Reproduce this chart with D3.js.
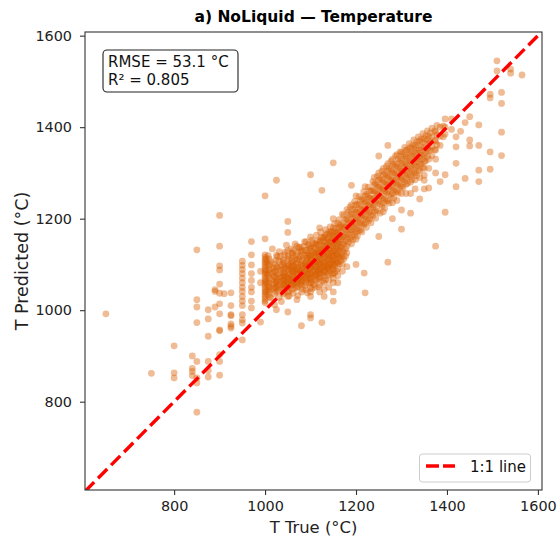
<!DOCTYPE html>
<html>
<head>
<meta charset="utf-8">
<script src="https://cdn.jsdelivr.net/npm/d3@7"></script>
<style>
  body { margin: 0; background: #fff; }
  svg { font-family: "DejaVu Sans", sans-serif; }
</style>
</head>
<body>
<div id="chart"></div>
<script>
// True temperature columns and the predicted values
const tailLowTrue = [650, 750, 800, 840, 850, 875, 890, 900, 910, 925, 950, 970, 990];
const tailLowPred = [
    [992], [862], [922, 863, 852], [900, 873, 866, 857],
    [1132, 1023, 1007, 973, 888, 852, 841, 777],
    [1001, 981, 943, 888, 868, 854], [1045, 1041, 1007],
    [1207, 1140, 1097, 1088, 1057, 1037, 1014, 992, 957, 955, 903, 888, 858],
    [1036], [1038, 1010, 990, 988, 970, 965, 961],
    [1107, 1098, 1089, 1080, 1070, 1060, 1050, 1041, 1030, 1020, 1010, 990, 979, 972, 935],
    [1150, 1121, 1099, 1080, 1065, 1050, 1040, 1020, 1005],
    [1085, 1060, 974]
];

const coreTrue = [1000, 1010, 1025, 1040, 1050, 1060, 1070, 1080, 1090, 1100, 1110, 1120, 1125,
    1130, 1140, 1150, 1160, 1170];
const corePred = [
    [1250, 1156, 1121, 1116, 1110, 1105, 1100, 1095, 1090, 1085, 1080, 1075, 1070, 1065, 1060, 1055,
        1050, 1045, 1040, 1035, 1030, 1025, 1020, 1016],
    [1100, 1082, 1070, 1050, 1040, 1028],
    [1284, 1120, 1095, 1080, 1070, 1060, 1050, 1040, 1001],
    [1110, 1090, 1075, 1065, 1055, 1045, 1035],
    [1194, 1170, 1130, 1115, 1100, 1090, 1080, 1070, 1060, 1050, 1040, 1030, 996],
    [1125, 1105, 1095, 1085, 1075, 1065, 1055, 1045],
    [1140, 1110, 1090, 1080, 1070, 1060, 1050, 1023],
    [1130, 1100, 1085, 1075, 1065, 1055, 1040, 966],
    [1150, 1120, 1105, 1095, 1085, 1075, 1060, 1045],
    [1296, 1160, 1135, 1120, 1110, 1100, 1090, 1080, 1070, 1060, 1050, 1040, 1030, 990, 983],
    [1145, 1125, 1110, 1095, 1080, 1065, 1050],
    [1180, 1150, 1130, 1115, 1100, 1090, 1080, 1070, 1055, 1040],
    [1262, 973],
    [1160, 1140, 1120, 1105, 1095, 1085, 1075, 1060, 1045, 1030],
    [1170, 1150, 1135, 1120, 1110, 1100, 1090, 1080, 1065, 1050],
    [1322, 1200, 1180, 1160, 1145, 1130, 1120, 1110, 1100, 1090, 1080, 1070, 1060, 1040, 1020],
    [1190, 1170, 1150, 1135, 1120, 1105, 1090, 1075, 1060],
    [1210, 1180, 1160, 1145, 1130, 1115, 1100, 1085]
];

const coreDenseTrue = [1002, 1007, 1013, 1016, 1021, 1027, 1031, 1036, 1042, 1047, 1053, 1057, 1062,
    1066, 1072, 1077, 1082, 1087, 1093, 1097, 1103, 1107, 1113, 1117, 1122, 1127, 1133, 1137, 1143,
    1147, 1153, 1157, 1163, 1167, 1173, 1177];
const coreDensePred = [
    [1112, 1087, 1063, 1041], [1119, 1098, 1076, 1052, 1033], [1106, 1091, 1067, 1046, 1027],
    [1134, 1081, 1058], [1101, 1084, 1072, 1049, 1036, 1012], [1117, 1093, 1066, 1054, 1043],
    [1128, 1107, 1079, 1061, 1028], [1099, 1088, 1071, 1047, 1019], [1121, 1103, 1082, 1068, 1057, 1039],
    [1142, 1096, 1074, 1062, 1051], [1111, 1087, 1077, 1064, 1043, 1031], [1134, 1102, 1091, 1069, 1055],
    [1119, 1098, 1083, 1072, 1058, 1037], [1145, 1113, 1089, 1066, 1048],
    [1127, 1104, 1094, 1079, 1063, 1052, 1032], [1138, 1117, 1086, 1071, 1057],
    [1121, 1108, 1092, 1078, 1061, 1046], [1149, 1131, 1101, 1084, 1068, 1053],
    [1126, 1114, 1097, 1081, 1066, 1038], [1141, 1119, 1103, 1088, 1072, 1059],
    [1153, 1129, 1112, 1094, 1077, 1062, 1047], [1138, 1121, 1106, 1089, 1074, 1056],
    [1164, 1143, 1124, 1108, 1093, 1079, 1066], [1131, 1116, 1101, 1085, 1069, 1051],
    [1171, 1152, 1136, 1119, 1104, 1088, 1073], [1158, 1141, 1127, 1112, 1096, 1081, 1064],
    [1176, 1163, 1147, 1131, 1115, 1099, 1083, 1067], [1154, 1139, 1124, 1107, 1091, 1076],
    [1182, 1166, 1149, 1133, 1118, 1102, 1087], [1171, 1156, 1141, 1126, 1109, 1094, 1078],
    [1189, 1173, 1158, 1144, 1128, 1113, 1097, 1082], [1167, 1151, 1136, 1121, 1104, 1086],
    [1198, 1181, 1164, 1148, 1132, 1117, 1101], [1186, 1171, 1155, 1139, 1123, 1108],
    [1207, 1191, 1176, 1160, 1144, 1127, 1112], [1198, 1182, 1166, 1151, 1134, 1118]
];

const coreExtraTrue = [1004, 1009, 1019, 1024, 1034, 1039, 1044, 1051, 1059, 1064, 1069, 1074, 1079,
    1084, 1091, 1095, 1099, 1105, 1111, 1115, 1119, 1124, 1129, 1135, 1139, 1145, 1149, 1155, 1159, 1165];
const coreExtraPred = [
    [1104, 1079, 1058], [1112, 1088, 1061, 1044], [1093, 1074, 1057], [1109, 1086, 1063, 1048],
    [1118, 1094, 1073, 1056], [1106, 1081, 1064, 1049], [1127, 1092, 1076, 1059],
    [1118, 1097, 1069, 1056], [1124, 1108, 1087, 1061], [1131, 1096, 1078, 1059],
    [1119, 1101, 1084, 1066], [1136, 1112, 1088, 1068], [1127, 1099, 1081, 1064],
    [1139, 1114, 1096, 1073], [1131, 1108, 1089, 1071], [1144, 1121, 1098, 1079],
    [1136, 1113, 1094, 1068], [1147, 1126, 1101, 1084], [1139, 1117, 1096, 1077],
    [1152, 1128, 1106, 1087], [1144, 1123, 1099, 1082], [1159, 1133, 1111, 1092],
    [1151, 1126, 1104, 1087], [1166, 1142, 1119, 1096], [1158, 1134, 1112, 1093],
    [1172, 1149, 1124, 1103], [1163, 1139, 1117, 1098], [1178, 1154, 1131, 1109],
    [1169, 1146, 1122, 1104], [1184, 1161, 1137, 1116]
];

const bandTrue = [1180, 1190, 1200, 1210, 1218, 1220, 1230, 1240, 1250, 1260, 1270, 1280, 1290, 1300,
    1310, 1320, 1330, 1340, 1350, 1360, 1375, 1385];
const bandPred = [
    [1220, 1200, 1185, 1170, 1155, 1140, 1125, 1095],
    [1273, 1230, 1210, 1190, 1175, 1160, 1145],
    [1250, 1230, 1215, 1200, 1185, 1170, 1155, 1100],
    [1240, 1220, 1205, 1190, 1175],
    [1081],
    [1270, 1250, 1235, 1220, 1205, 1190, 1038],
    [1260, 1245, 1230, 1215, 1200],
    [1290, 1275, 1260, 1245, 1230, 1215],
    [1337, 1300, 1285, 1270, 1255, 1240, 1161],
    [1310, 1295, 1280, 1265, 1250, 1235, 1215],
    [1360, 1320, 1305, 1290, 1275, 1260, 1240, 1105],
    [1330, 1315, 1300, 1285, 1270, 1255, 1235, 1200],
    [1340, 1320, 1305, 1290, 1275, 1260, 1240],
    [1345, 1330, 1315, 1300, 1285, 1270, 1255, 1219, 1177],
    [1350, 1335, 1320, 1305, 1290, 1275, 1255],
    [1355, 1340, 1325, 1310, 1295, 1280, 1255, 1212],
    [1360, 1345, 1330, 1315, 1300, 1285, 1265],
    [1370, 1350, 1335, 1320, 1305, 1290, 1243],
    [1375, 1355, 1340, 1325, 1310, 1295, 1284, 1265],
    [1380, 1365, 1350, 1330, 1310, 1267],
    [1390, 1370, 1350, 1330, 1300, 1140],
    [1400, 1380, 1360, 1281]
];

const bandDenseTrue = [1183, 1187, 1193, 1197, 1203, 1207, 1213, 1217, 1223, 1227, 1233, 1237, 1243,
    1247, 1253, 1257, 1263, 1267, 1273, 1277, 1283, 1287, 1293, 1297, 1303, 1307, 1313, 1317, 1323,
    1327, 1333, 1337, 1343, 1347, 1353, 1357, 1363, 1367, 1373, 1378, 1392];
const bandDensePred = [
    [1214, 1197, 1181, 1165, 1148], [1226, 1209, 1192, 1176, 1158],
    [1221, 1204, 1188, 1172, 1154], [1238, 1219, 1201, 1183, 1166],
    [1232, 1214, 1197, 1179, 1162], [1248, 1229, 1211, 1193, 1174],
    [1243, 1225, 1207, 1189, 1171], [1259, 1239, 1221, 1203, 1186],
    [1253, 1236, 1217, 1199, 1181], [1269, 1249, 1231, 1213, 1195],
    [1262, 1245, 1227, 1208, 1191], [1281, 1261, 1242, 1224, 1206],
    [1276, 1257, 1238, 1219, 1201], [1293, 1272, 1253, 1234, 1216],
    [1287, 1268, 1249, 1231, 1212], [1304, 1284, 1264, 1245, 1227],
    [1298, 1279, 1261, 1242, 1223], [1314, 1294, 1276, 1257, 1238],
    [1309, 1291, 1272, 1253, 1234], [1326, 1305, 1286, 1268, 1249],
    [1319, 1301, 1282, 1263, 1245], [1337, 1316, 1297, 1279, 1259],
    [1331, 1312, 1293, 1275, 1256], [1346, 1327, 1308, 1289, 1271],
    [1341, 1322, 1304, 1286, 1267], [1356, 1337, 1318, 1299, 1281],
    [1351, 1332, 1314, 1296, 1277], [1364, 1346, 1327, 1309, 1291],
    [1359, 1341, 1322, 1304, 1285], [1372, 1354, 1336, 1318, 1299],
    [1367, 1349, 1331, 1313, 1294], [1379, 1361, 1343, 1325, 1306],
    [1374, 1356, 1338, 1319], [1386, 1368, 1349, 1331, 1312],
    [1381, 1363, 1344, 1326], [1392, 1373, 1354, 1336],
    [1387, 1368, 1349], [1398, 1379, 1358, 1338],
    [1392, 1371, 1351], [1404, 1383, 1362], [1402, 1379]
];

const tailHighTrue = [1396, 1410, 1420, 1430, 1440, 1450, 1470, 1495, 1510, 1520, 1540, 1565];
const tailHighPred = [
    [1418, 1400, 1385, 1296, 1214], [1418, 1395], [1379, 1357, 1321, 1270], [1391],
    [1410, 1288], [1423, 1372, 1359], [1405, 1360, 1306, 1281],
    [1472, 1464, 1346, 1308], [1545, 1523], [1476, 1452, 1389, 1338],
    [1527, 1518], [1514]
];

const xTicks = [800, 1000, 1200, 1400, 1600];
const yTicks = [800, 1000, 1200, 1400, 1600];
const statLines = ["RMSE = 53.1 °C", "R² = 0.805"];
const titleText = "a) NoLiquid — Temperature";

const width = 558, height = 539;
const margin = {top: 32, right: 16, bottom: 49, left: 85};

const svg = d3.select("#chart").append("svg")
    .attr("width", width)
    .attr("height", height);

const x = d3.scaleLinear().domain([604, 1609]).range([margin.left, width - margin.right]);
const y = d3.scaleLinear().domain([607, 1608]).range([height - margin.bottom, margin.top]);

function flatten(trues, preds) {
    const out = [];
    trues.forEach(function(t, i) {
        preds[i].forEach(function(p) { out.push({t: t, p: p}); });
    });
    return out;
}
const points = [].concat(
    flatten(tailLowTrue, tailLowPred),
    flatten(coreTrue, corePred),
    flatten(coreDenseTrue, coreDensePred),
    flatten(coreExtraTrue, coreExtraPred),
    flatten(bandTrue, bandPred),
    flatten(bandDenseTrue, bandDensePred),
    flatten(tailHighTrue, tailHighPred)
);

svg.append("defs").append("clipPath").attr("id", "clip")
    .append("rect")
    .attr("x", margin.left).attr("y", margin.top)
    .attr("width", width - margin.left - margin.right)
    .attr("height", height - margin.top - margin.bottom);

svg.append("g")
    .selectAll("circle")
    .data(points)
    .enter().append("circle")
    .attr("cx", d => x(d.t))
    .attr("cy", d => y(d.p))
    .attr("r", 3.4)
    .attr("fill", "#d95f02")
    .attr("fill-opacity", 0.42);

// 1:1 line
svg.append("line")
    .attr("clip-path", "url(#clip)")
    .attr("x1", x(604)).attr("y1", y(604))
    .attr("x2", x(1609)).attr("y2", y(1609))
    .attr("stroke", "#ff0000")
    .attr("stroke-width", 3.4)
    .attr("stroke-dasharray", "13,5.5");

// axes
const fmt = d3.format("d");
const xAxis = svg.append("g")
    .attr("transform", `translate(0,${height - margin.bottom})`)
    .call(d3.axisBottom(x).tickValues(xTicks).tickFormat(fmt).tickSize(5).tickPadding(6));
const yAxis = svg.append("g")
    .attr("transform", `translate(${margin.left},0)`)
    .call(d3.axisLeft(y).tickValues(yTicks).tickFormat(fmt).tickSize(5).tickPadding(8));
[xAxis, yAxis].forEach(function(a) {
    a.select(".domain").remove();
    a.selectAll("line").attr("stroke", "#333").attr("stroke-width", 1.1);
    a.selectAll("text").attr("font-size", 14.4).attr("fill", "#222")
        .attr("font-family", "DejaVu Sans");
});

svg.append("rect")
    .attr("x", margin.left).attr("y", margin.top)
    .attr("width", width - margin.left - margin.right)
    .attr("height", height - margin.top - margin.bottom)
    .attr("fill", "none")
    .attr("stroke", "#333")
    .attr("stroke-width", 1.1);

svg.append("text")
    .attr("x", (margin.left + width - margin.right) / 2)
    .attr("y", 22)
    .attr("text-anchor", "middle")
    .attr("font-size", 15.5)
    .attr("font-weight", "bold")
    .text(titleText);

svg.append("text")
    .attr("x", (margin.left + width - margin.right) / 2)
    .attr("y", 533)
    .attr("text-anchor", "middle")
    .attr("font-size", 16.4)
    .attr("fill", "#222")
    .text("T True (°C)");

svg.append("text")
    .attr("transform", `translate(28,${(margin.top + height - margin.bottom) / 2}) rotate(-90)`)
    .attr("text-anchor", "middle")
    .attr("font-size", 17.5)
    .attr("fill", "#222")
    .text("T Predicted (°C)");

// stats box
const statBox = svg.append("g");
statBox.append("rect")
    .attr("x", 103).attr("y", 50)
    .attr("width", 135).attr("height", 42)
    .attr("rx", 4)
    .attr("fill", "#fff")
    .attr("stroke", "#222")
    .attr("stroke-width", 1.1);
statBox.selectAll("text")
    .data(statLines)
    .enter().append("text")
    .attr("x", 108)
    .attr("y", (d, i) => 66.7 + i * 18.3)
    .attr("font-size", 15)
    .attr("fill", "#111")
    .text(d => d);

// legend
const legend = svg.append("g");
legend.append("rect")
    .attr("x", 419.5).attr("y", 454)
    .attr("width", 111).attr("height", 28)
    .attr("rx", 3)
    .attr("fill", "#fff")
    .attr("fill-opacity", 0.8)
    .attr("stroke", "#ccc");
legend.append("line")
    .attr("x1", 426).attr("x2", 455)
    .attr("y1", 466).attr("y2", 466)
    .attr("stroke", "#ff0000")
    .attr("stroke-width", 3.4)
    .attr("stroke-dasharray", "13,4");
legend.append("text")
    .attr("x", 470).attr("y", 471.5)
    .attr("font-size", 15)
    .attr("fill", "#111")
    .text("1:1 line");
</script>
</body>
</html>
